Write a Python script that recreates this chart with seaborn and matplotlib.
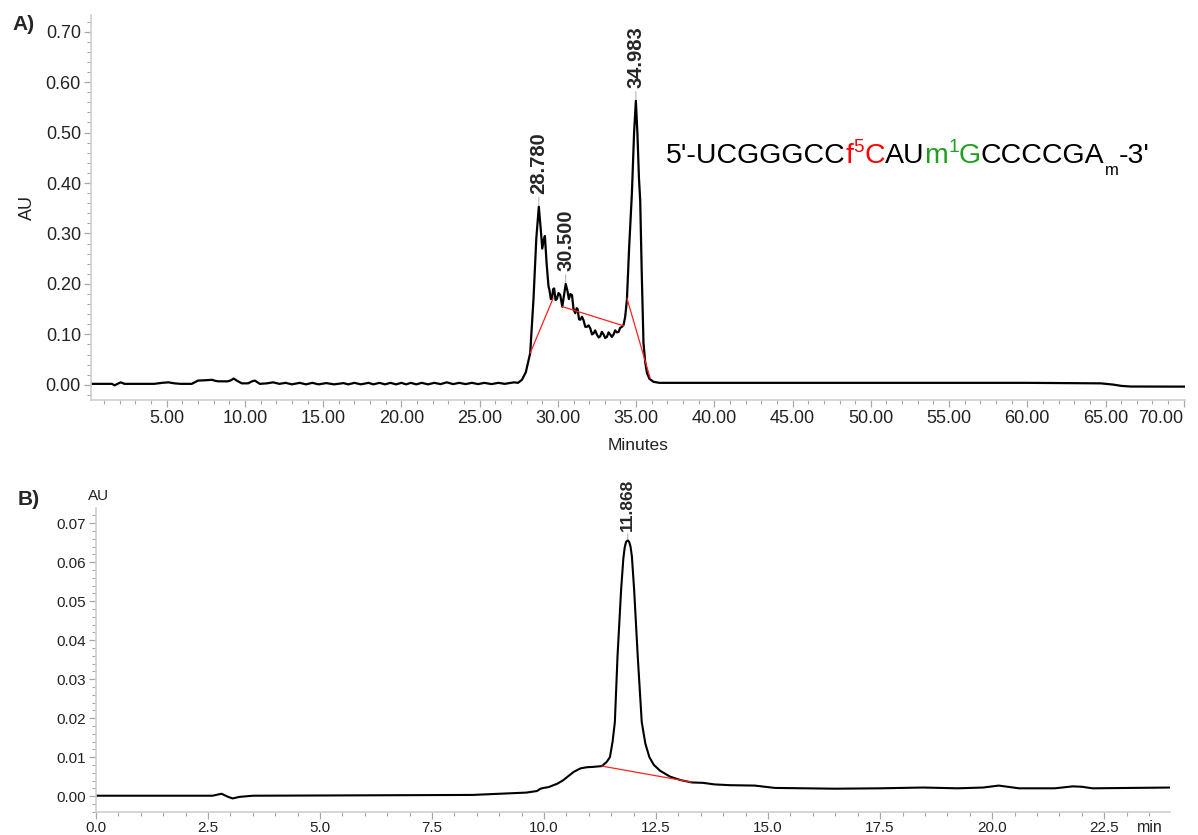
import numpy as np
import pandas as pd
import matplotlib
matplotlib.use("Agg")
import matplotlib.pyplot as plt
import seaborn as sns
from matplotlib.ticker import MultipleLocator, FormatStrFormatter

# ---------------- Panel A data ----------------
time_a = [0.14, 1.50, 1.67, 1.85, 2.06, 2.30, 4.20, 4.70, 5.10, 5.50, 5.90, 6.60, 6.85, 7.00,
          7.40, 7.90, 8.10, 8.30, 8.90, 9.10, 9.28, 9.50, 9.80, 10.20, 10.45, 10.63, 10.80,
          10.95, 11.40, 11.80, 12.20, 12.60, 13.00, 13.50, 13.90, 14.30, 14.70, 15.20, 15.70,
          16.30, 16.60, 17.00, 17.40, 17.90, 18.20, 18.60, 18.95, 19.30, 19.65, 20.00, 20.30,
          20.60, 20.95, 21.30, 21.70, 22.10, 22.50, 22.90, 23.30, 23.70, 24.10, 24.50, 24.90,
          25.30, 25.75, 26.20, 26.60, 27.00, 27.20, 27.45, 27.70, 27.95, 28.23, 28.44, 28.62,
          28.78, 28.90, 29.00, 29.10, 29.17, 29.28, 29.40, 29.46, 29.55, 29.62, 29.70, 29.76,
          29.85, 29.93, 30.04, 30.15, 30.28, 30.40, 30.50, 30.62, 30.70, 30.80, 30.90, 31.00,
          31.11, 31.20, 31.26, 31.35, 31.43, 31.54, 31.64, 31.75, 31.85, 31.96, 32.07, 32.18,
          32.28, 32.38, 32.49, 32.60, 32.70, 32.81, 32.92, 33.02, 33.13, 33.24, 33.34, 33.45,
          33.56, 33.66, 33.77, 33.88, 33.98, 34.09, 34.20, 34.30, 34.41, 34.55, 34.73, 34.87,
          34.983, 35.08, 35.18, 35.26, 35.36, 35.47, 35.58, 35.69, 35.85, 36.11, 36.50, 40.00,
          50.00, 60.00, 63.00, 64.70, 65.50, 66.00, 66.60, 70.10]
au_a = [0.002, 0.002, -0.001, 0.002, 0.005, 0.002, 0.002, 0.004, 0.005, 0.003, 0.002, 0.002,
        0.006, 0.0085, 0.009, 0.010, 0.008, 0.007, 0.007, 0.009, 0.0125, 0.008, 0.003, 0.003,
        0.007, 0.0085, 0.005, 0.002, 0.003, 0.005, 0.002, 0.004, 0.001, 0.004, 0.001, 0.004,
        0.001, 0.0035, 0.001, 0.0035, 0.001, 0.004, 0.001, 0.004, 0.001, 0.004, 0.001, 0.004,
        0.001, 0.004, 0.001, 0.004, 0.001, 0.004, 0.001, 0.004, 0.0015, 0.005, 0.0015, 0.004,
        0.0015, 0.004, 0.0015, 0.004, 0.0015, 0.004, 0.002, 0.004, 0.005, 0.004, 0.010, 0.025,
        0.063, 0.170, 0.290, 0.353, 0.310, 0.270, 0.288, 0.295, 0.240, 0.195, 0.188, 0.170,
        0.172, 0.190, 0.191, 0.168, 0.170, 0.182, 0.178, 0.155, 0.180, 0.200, 0.185, 0.170,
        0.180, 0.178, 0.150, 0.142, 0.152, 0.150, 0.130, 0.129, 0.135, 0.128, 0.115, 0.115,
        0.118, 0.112, 0.100, 0.102, 0.108, 0.100, 0.094, 0.096, 0.105, 0.100, 0.093, 0.095,
        0.104, 0.100, 0.095, 0.100, 0.108, 0.104, 0.105, 0.113, 0.115, 0.119, 0.135, 0.168,
        0.270, 0.380, 0.500, 0.563, 0.500, 0.410, 0.366, 0.220, 0.083, 0.045, 0.024, 0.012,
        0.006, 0.004, 0.004, 0.004, 0.004, 0.0035, 0.003, 0.0005, -0.002, -0.0033, -0.0035]

base_a_t = [[28.23, 29.70], [30.28, 34.20], [34.41, 35.90]]
base_a_v = [[0.063, 0.172], [0.155, 0.117], [0.172, 0.013]]

peaks_a_t = [28.780, 30.500, 34.983]
peaks_a_v = [0.353, 0.200, 0.563]

xticks_a = [5, 10, 15, 20, 25, 30, 35, 40, 45, 50, 55, 60, 65, 70]
yticks_a = [0.0, 0.1, 0.2, 0.3, 0.4, 0.5, 0.6, 0.7]

# ---------------- Panel B data ----------------
time_b = [0.00, 2.60, 2.80, 2.95, 3.05, 3.20, 3.50, 6.00, 8.40, 9.00, 9.60, 9.84, 9.92, 9.99,
          10.10, 10.21, 10.30, 10.43, 10.55, 10.66, 10.81, 10.95, 11.10, 11.29, 11.40, 11.47,
          11.53, 11.58, 11.64, 11.72, 11.77, 11.80, 11.83, 11.868, 11.90, 11.93, 11.96, 12.01,
          12.09, 12.18, 12.26, 12.35, 12.45, 12.59, 12.81, 13.05, 13.30, 13.55, 13.80, 14.15,
          14.70, 15.15, 16.50, 17.50, 18.46, 19.23, 19.80, 20.15, 20.60, 21.40, 21.80, 22.00,
          22.24, 24.00]
au_b = [0.0001, 0.0001, 0.0006, -0.0002, -0.0006, -0.0002, 0.0001, 0.0002, 0.0003, 0.0006,
        0.0009, 0.0013, 0.0019, 0.0021, 0.0023, 0.0028, 0.0032, 0.0041, 0.0052, 0.0062, 0.0071,
        0.0074, 0.0075, 0.0077, 0.0088, 0.0100, 0.0140, 0.0190, 0.0360, 0.0530, 0.0610, 0.0638,
        0.0652, 0.0656, 0.0652, 0.0640, 0.0615, 0.0530, 0.0360, 0.0190, 0.0135, 0.0100, 0.0080,
        0.0065, 0.0050, 0.0041, 0.0035, 0.0034, 0.0030, 0.0028, 0.0027, 0.0021, 0.0019, 0.0020,
        0.0022, 0.0020, 0.0022, 0.0027, 0.0020, 0.0020, 0.0025, 0.0024, 0.0020, 0.0022]

base_b_t = [11.29, 13.29]
base_b_v = [0.0077, 0.0036]

peaks_b_t = [11.868]
peaks_b_v = [0.0656]

xticks_b = [0.0, 2.5, 5.0, 7.5, 10.0, 12.5, 15.0, 17.5, 20.0, 22.5]
yticks_b = [0.00, 0.01, 0.02, 0.03, 0.04, 0.05, 0.06, 0.07]

seq_parts = [("5'-UCGGGCC", "black", 0), ("f", "#ff0000", 0), ("5", "#ff0000", 1),
             ("C", "#ff0000", 0), ("AU", "black", 0), ("m", "#1fa01f", 0),
             ("1", "#1fa01f", 1), ("G", "#1fa01f", 0), ("CCCCGA", "black", 0),
             ("m", "black", -1), ("-3'", "black", 0)]

# ---------------- Plot ----------------
sns.set_style("white")
plt.rcParams['font.family'] = ['Liberation Sans', 'DejaVu Sans']

W, H = 1198, 835
fig = plt.figure(figsize=(W / 100, H / 100), dpi=100)
axA = fig.add_axes([90.7 / W, 1 - 400 / H, (1185 - 90.7) / W, (400 - 15) / H])
axB = fig.add_axes([96 / W, 1 - 811.7 / H, (1170 - 96) / W, (811.7 - 508) / H])

dfA = pd.DataFrame({"Minutes": time_a, "AU": au_a})
sns.lineplot(data=dfA, x="Minutes", y="AU", ax=axA, color="black", lw=1.6,
             sort=False, estimator=None)
for bt, bv in zip(base_a_t, base_a_v):
    sns.lineplot(x=bt, y=bv, ax=axA, color="#ff2020", lw=0.9, sort=False, estimator=None)

dfB = pd.DataFrame({"min": time_b, "AU": au_b})
sns.lineplot(data=dfB, x="min", y="AU", ax=axB, color="black", lw=1.5,
             sort=False, estimator=None)
sns.lineplot(x=base_b_t, y=base_b_v, ax=axB, color="#ff2020", lw=0.9, sort=False, estimator=None)

axA.set_xlim(0.14, 70.08)
axA.set_ylim(-0.03, 0.733)
axB.set_xlim(0.0, 23.97)
axB.set_ylim(-0.004, 0.0739)

axA.set_xticks(xticks_a)
axA.set_yticks(yticks_a)
axA.xaxis.set_major_formatter(FormatStrFormatter('%.2f'))
axA.yaxis.set_major_formatter(FormatStrFormatter('%.2f'))
axA.xaxis.set_minor_locator(MultipleLocator(1))
axA.yaxis.set_minor_locator(MultipleLocator(0.02))

axB.set_xticks(xticks_b)
axB.set_yticks(yticks_b)
axB.xaxis.set_major_formatter(FormatStrFormatter('%.1f'))
axB.yaxis.set_major_formatter(FormatStrFormatter('%.2f'))
axB.xaxis.set_minor_locator(MultipleLocator(0.5))
axB.yaxis.set_minor_locator(MultipleLocator(0.002))

for ax, fs in ((axA, 13), (axB, 11)):
    for s in ['top', 'right']:
        ax.spines[s].set_visible(False)
    for s in ['left', 'bottom']:
        ax.spines[s].set_color('#cfcfcf')
        ax.spines[s].set_linewidth(1.2)
    ax.tick_params(which='both', bottom=True, left=True, direction='out',
                   color='#a8a8a8', labelcolor='#222222', labelsize=fs)
    ax.tick_params(which='major', length=5, width=0.9, pad=2)
    ax.tick_params(which='minor', length=3, width=0.8)

axA.set_xlabel("Minutes", fontsize=12.5, color='#222222', labelpad=8)
axA.set_ylabel("AU", fontsize=13, color='#222222', labelpad=7)
axB.set_xlabel("")
axB.set_ylabel("")
axA.get_xticklabels()[-1].set_ha('right')

fig.text(99 / W, 1 - 496 / H, "AU", ha='center', va='center', fontsize=11, color='#222222')
fig.text(1150 / W, 1 - 827 / H, "min", ha='center', va='center', fontsize=11.5, color='#222222')

fig.text(12 / W, 1 - 24 / H, "A)", ha='left', va='center', fontsize=15, fontweight='bold')
fig.text(18 / W, 1 - 500 / H, "B)", ha='left', va='center', fontsize=15, fontweight='bold')

arrow = dict(arrowstyle='-', color='#a0a0a0', lw=0.6, shrinkA=0, shrinkB=1)
for t, v in zip(peaks_a_t, peaks_a_v):
    axA.annotate(f"{t:.3f}", xy=(t, v), xytext=(0, 9), textcoords='offset points',
                 rotation=90, ha='center', va='bottom', fontsize=14.5, fontweight='bold',
                 arrowprops=arrow)
for t, v in zip(peaks_b_t, peaks_b_v):
    axB.annotate(f"{t:.3f}", xy=(t, v), xytext=(0, 7), textcoords='offset points',
                 rotation=90, ha='center', va='bottom', fontsize=12.5, fontweight='bold',
                 arrowprops=arrow)

# sequence text built piece by piece
renderer = fig.canvas.get_renderer()
x_px = 666.0
base_px = 163.3
for s, col, lvl in seq_parts:
    fs = 20.5 if lvl == 0 else (13.7 if lvl == 1 else 12)
    dy = 0 if lvl == 0 else (11.8 if lvl == 1 else -11.7)
    txt = fig.text(x_px / W, 1 - (base_px - dy) / H, s, color=col, fontsize=fs,
                   va='baseline', ha='left')
    bb = txt.get_window_extent(renderer)
    x_px = bb.x1

fig.savefig("out.png", dpi=100)
